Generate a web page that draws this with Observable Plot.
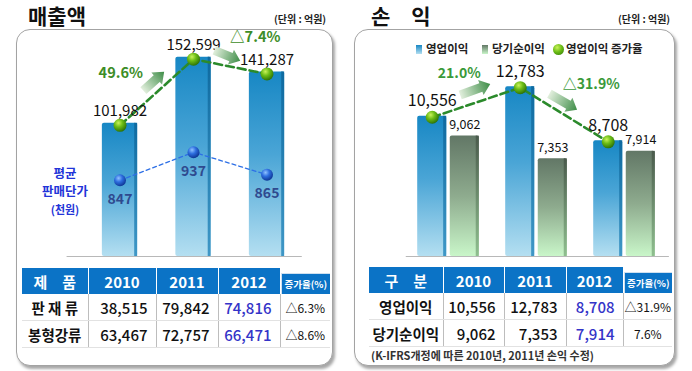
<!DOCTYPE html>
<html><head><meta charset="utf-8">
<script src="https://cdn.jsdelivr.net/npm/d3@7"></script>
<script src="https://cdn.jsdelivr.net/npm/@observablehq/plot@0.6"></script>
<style>
body{margin:0;background:#fff;}
#root{position:relative;width:692px;height:371px;overflow:hidden;font-family:'Noto Sans CJK KR','Noto Sans',sans-serif;color:#111;background:#fff;}
.title{position:absolute;font-size:21px;font-weight:700;line-height:26px;color:#111;white-space:pre;}
.unit{position:absolute;font-size:10px;font-weight:700;color:#222;line-height:14px;}
.box{position:absolute;border:1.5px solid #a3a3a3;border-radius:14px;box-shadow:2px 3px 3px rgba(0,0,0,.35);background:#fff;box-sizing:border-box;}
.chart{position:absolute;top:30px;}
table{position:absolute;border-collapse:collapse;table-layout:fixed;}
th{background:#0b73c6;color:#fff;font-size:15px;font-weight:700;padding:0;border-left:1px solid #fff;height:26px;text-align:center;white-space:pre;}
th:first-child{border-left:none}
th.rate{background:#fff;vertical-align:bottom;}
th.rate div{background:#0b73c6;height:20px;line-height:20px;font-size:9.5px;border-top:1px solid #cfe0ef;border-left:1px solid #cfe0ef;}
td{font-size:15px;font-weight:500;padding:0;border-left:1px solid #bdbdbd;border-bottom:1px solid #e2e2e2;white-space:pre;height:26px;}
td:first-child{border-left:none;}
td.num{text-align:right;padding-right:8px;}
td.lab{text-align:center;font-weight:700;font-size:14.5px;}
td.chg{text-align:center;font-size:12px;font-weight:400;}
td.blue{color:#3434c8;}
.legend{position:absolute;top:40px;font-size:11.5px;font-weight:700;color:#222;line-height:16px;}
</style>
</head>
<body>
<svg width="0" height="0" style="position:absolute">
  <defs>
    <linearGradient id="gBlue" x1="0" y1="0" x2="0" y2="1">
      <stop offset="0" stop-color="#1787c4"/><stop offset="0.45" stop-color="#4aa5d6"/><stop offset="1" stop-color="#b4dff1"/>
    </linearGradient>
    <linearGradient id="gBlueEdge" x1="0" y1="0" x2="0" y2="1">
      <stop offset="0" stop-color="#0e6aa0"/><stop offset="1" stop-color="#3f97c6"/>
    </linearGradient>
    <linearGradient id="gNet" x1="0" y1="0" x2="0" y2="1">
      <stop offset="0" stop-color="#627766"/><stop offset="0.5" stop-color="#8eab8e"/><stop offset="1" stop-color="#c9f6c9"/>
    </linearGradient>
    <linearGradient id="gNetEdge" x1="0" y1="0" x2="0" y2="1">
      <stop offset="0" stop-color="#4a5a4c"/><stop offset="1" stop-color="#8fbf8f"/>
    </linearGradient>
    <radialGradient id="gDotGreen" cx="0.38" cy="0.32" r="0.7">
      <stop offset="0" stop-color="#c9f25a"/><stop offset="0.45" stop-color="#6cbd16"/><stop offset="1" stop-color="#2c7206"/>
    </radialGradient>
    <radialGradient id="gDotBlue" cx="0.38" cy="0.32" r="0.7">
      <stop offset="0" stop-color="#8fc2ff"/><stop offset="0.45" stop-color="#2e6fe0"/><stop offset="1" stop-color="#0d3593"/>
    </radialGradient>
    <linearGradient id="gArrow" x1="0" y1="1" x2="0" y2="0">
      <stop offset="0" stop-color="#e2efdd"/><stop offset="1" stop-color="#3e8d47"/>
    </linearGradient>
  </defs>
</svg>
<div id="root">
  <div class="title" style="left:28px;top:2px">매출액</div>
  <div class="unit" style="left:274px;top:12px">(단위 : 억원)</div>
  <div class="box" style="left:16px;top:29px;width:317px;height:337px"></div>
  <div id="chartL" class="chart" style="left:0"></div>
  <div style="position:absolute;left:25px;top:164px;width:80px;text-align:center;color:#2234d8;font-weight:700;font-size:12.5px;line-height:18px">평균<br>판매단가<br><span style="font-size:11px">(천원)</span></div>
  <table id="tblL" style="left:22px;top:268px;width:308px"></table>

  <div class="title" style="left:371px;top:2px">손　익</div>
  <div class="unit" style="left:618px;top:12px">(단위 : 억원)</div>
  <div class="box" style="left:354px;top:29px;width:321px;height:337px"></div>
  <div id="chartR" class="chart" style="left:346px"></div>
  <div class="legend" style="left:416px"><span style="display:inline-block;width:6px;height:9px;background:linear-gradient(#1787c4,#b4dff1);margin-right:4px;vertical-align:-1px"></span>영업이익</div>
  <div class="legend" style="left:482px"><span style="display:inline-block;width:6px;height:9px;background:linear-gradient(#627766,#c9f6c9);margin-right:4px;vertical-align:-1px"></span>당기순이익</div>
  <div class="legend" style="left:553px"><span style="display:inline-block;width:11px;height:11px;border-radius:50%;background:radial-gradient(circle at 38% 32%,#c9f25a,#6cbd16 45%,#2c7206);margin-right:2px;vertical-align:-2px"></span>영업이익 증가율</div>
  <table id="tblR" style="left:369px;top:267px;width:303px"></table>
  <div style="position:absolute;left:371px;top:347px;font-size:11px;font-weight:700;color:#333;white-space:pre">(K-IFRS개정에 따른 2010년, 2011년 손익 수정)</div>
</div>
<script>
// ---- data ----
const years = [2010, 2011, 2012];
const salesTotal = [101982, 152599, 141287];
const salesGrowthLabels = ["49.6%", "△7.4%"];
const avgPrice = [847, 937, 865];
const operatingIncome = [10556, 12783, 8708];
const netIncome = [9062, 7353, 7914];
const opGrowthLabels = ["21.0%", "△31.9%"];
const productHeader = "제　품";
const productNames = ["판 재 류", "봉형강류"];
const sheetSales = [38515, 79842, 74816];
const barSales = [63467, 72757, 66471];
const productChange = ["△6.3%", "△8.6%"];
const plHeader = "구　분";
const plNames = ["영업이익", "당기순이익"];
const plChange = ["△31.9%", "7.6%"];
const rateHeader = "증가율(%)";

const FONT = "'Noto Sans CJK KR', 'Noto Sans', sans-serif";
const fmt = d3.format(",");
// secondary axis: average price (thousand won) placed on the sales axis
const priceAxis = d3.scaleLinear([800, 950], [47000, 83000]);

const blockArrow = {
  draw(context, l) {
    const w = 4.5, hw = 8, hl = 10;
    context.moveTo(-w, 0);
    context.lineTo(-w, -l + hl);
    context.lineTo(-hw, -l + hl);
    context.lineTo(0, -l);
    context.lineTo(hw, -l + hl);
    context.lineTo(w, -l + hl);
    context.lineTo(w, 0);
    context.closePath();
  }
};

function steps(xs, vs, labels, xOff) {
  return labels.map((label, i) => ({
    x: (xs[i] + xs[i + 1]) / 2 + xOff,
    y: (vs[i] + vs[i + 1]) / 2,
    label,
    up: vs[i + 1] > vs[i]
  }));
}

// ---- left chart ----
const salesRows = years.map((year, i) => ({year, sales: salesTotal[i], price: priceAxis(avgPrice[i]), priceLabel: avgPrice[i]}));
const salesSteps = steps(years, salesTotal, salesGrowthLabels, 0);

const left = Plot.plot({
  width: 346, height: 230,
  marginLeft: 46, marginRight: 6, marginTop: 17, marginBottom: 4,
  x: {domain: [2009, 2013], axis: null},
  y: {domain: [0, 160000], axis: null},
  style: {background: "transparent", overflow: "visible", fontFamily: FONT},
  marks: [
    Plot.ruleY([0], {x1: 2009.28, x2: 2012.48, stroke: "#b8b8b8", strokeWidth: 1.2}),
    Plot.rectY(salesRows, {x1: d => d.year - 0.24, x2: d => d.year + 0.24, y: "sales", fill: "url(#gBlue)", rx: 2}),
    Plot.rectY(salesRows, {x1: d => d.year + 0.2, x2: d => d.year + 0.24, y: "sales", fill: "url(#gBlueEdge)"}),
    Plot.line(salesRows, {x: "year", y: "price", stroke: "#2d6fe6", strokeWidth: 1.3, strokeDasharray: "4,3"}),
    Plot.dot(salesRows, {x: "year", y: "price", r: 6, fill: "url(#gDotBlue)"}),
    Plot.text(salesRows, {x: "year", y: "price", text: d => fmt(d.priceLabel), dy: 19, fontSize: 14, fontWeight: 600, fill: "#2f4a8f"}),
    Plot.line(salesRows, {x: "year", y: "sales", dy: 2, stroke: "#2b8a2b", strokeWidth: 2.6, strokeDasharray: "8,4"}),
    Plot.dot(salesRows, {x: "year", y: "sales", dy: 2, r: 6.5, fill: "url(#gDotGreen)"}),
    Plot.text(salesRows, {x: "year", y: "sales", text: d => fmt(d.sales), dy: -12, fontSize: 15, fill: "#111"}),
    Plot.vector(salesSteps, {x: "x", y: "y", length: 28, rotate: d => d.up ? 48 : 112, shape: blockArrow, anchor: "middle", fill: "url(#gArrow)", stroke: "none", dx: -3, dy: -9}),
    Plot.text(salesSteps.filter(d => d.up), {x: "x", y: "y", text: "label", dx: -36, dy: -17, fontSize: 14.5, fontWeight: 700, fill: "#3c8d27"}),
    Plot.text(salesSteps.filter(d => !d.up), {x: "x", y: "y", text: "label", dx: 25, dy: -27, fontSize: 14.5, fontWeight: 700, fill: "#3c8d27"})
  ]
});
document.getElementById("chartL").append(left);

// ---- right chart ----
const plRows = years.map((year, i) => ({year, op: operatingIncome[i], net: netIncome[i]}));
const opSteps = steps(years, operatingIncome, opGrowthLabels, -0.185);

const right = Plot.plot({
  width: 346, height: 230,
  marginLeft: 58, marginRight: 24, marginTop: 40, marginBottom: 4,
  x: {domain: [2009.5, 2012.5], axis: null},
  y: {domain: [0, 14000], axis: null},
  style: {background: "transparent", overflow: "visible", fontFamily: FONT},
  marks: [
    Plot.ruleY([0], {x1: 2009.52, x2: 2012.51, stroke: "#b8b8b8", strokeWidth: 1.2}),
    Plot.rectY(plRows, {x1: d => d.year - 0.35, x2: d => d.year - 0.02, y: "op", fill: "url(#gBlue)", rx: 2}),
    Plot.rectY(plRows, {x1: d => d.year - 0.055, x2: d => d.year - 0.02, y: "op", fill: "url(#gBlueEdge)"}),
    Plot.rectY(plRows, {x1: d => d.year + 0.02, x2: d => d.year + 0.35, y: "net", fill: "url(#gNet)", rx: 2}),
    Plot.rectY(plRows, {x1: d => d.year + 0.315, x2: d => d.year + 0.35, y: "net", fill: "url(#gNetEdge)"}),
    Plot.text(plRows, {x: d => d.year + 0.185, y: "net", text: d => fmt(d.net), dy: -11, fontSize: 12.5, fill: "#111"}),
    Plot.line(plRows, {x: d => d.year - 0.185, y: "op", dy: 1, stroke: "#2b8a2b", strokeWidth: 2.6, strokeDasharray: "8,4"}),
    Plot.dot(plRows, {x: d => d.year - 0.185, y: "op", dy: 1, r: 6.5, fill: "url(#gDotGreen)"}),
    Plot.text(plRows, {x: d => d.year - 0.185, y: "op", text: d => fmt(d.op), dy: -15, fontSize: 16, fill: "#111"}),
    Plot.vector(opSteps, {x: "x", y: "y", length: 32, rotate: d => d.up ? 70 : 120, shape: blockArrow, anchor: "middle", fill: "url(#gArrow)", stroke: "none", dx: -1, dy: -12}),
    Plot.text(opSteps.filter(d => d.up), {x: "x", y: "y", text: "label", dx: -17, dy: -28, fontSize: 14, fontWeight: 600, fill: "#3a9a3a"}),
    Plot.text(opSteps.filter(d => !d.up), {x: "x", y: "y", text: "label", dx: 27, dy: -29, fontSize: 14, fontWeight: 600, fill: "#3a9a3a"})
  ]
});
document.getElementById("chartR").append(right);

// ---- tables ----
function buildTable(el, header, widths, names, rows, changes) {
  const cols = widths.map(w => `<col style="width:${w}px">`).join("");
  let html = `<colgroup>${cols}</colgroup><tr><th>${header}</th>` +
    years.map(y => `<th>${y}</th>`).join("") +
    `<th class="rate"><div>${rateHeader}</div></th></tr>`;
  names.forEach((name, r) => {
    html += `<tr><td class="lab">${name}</td>` +
      rows[r].map((v, i) => `<td class="num${i === years.length - 1 ? " blue" : ""}">${fmt(v)}</td>`).join("") +
      `<td class="chg">${changes[r]}</td></tr>`;
  });
  el.innerHTML = html;
}
buildTable(document.getElementById("tblL"), productHeader, [66, 68, 62, 62, 50], productNames, [sheetSales, barSales], productChange);
buildTable(document.getElementById("tblR"), plHeader, [74, 61, 62, 57, 49], plNames, [operatingIncome, netIncome], plChange);
</script>
</body></html>
